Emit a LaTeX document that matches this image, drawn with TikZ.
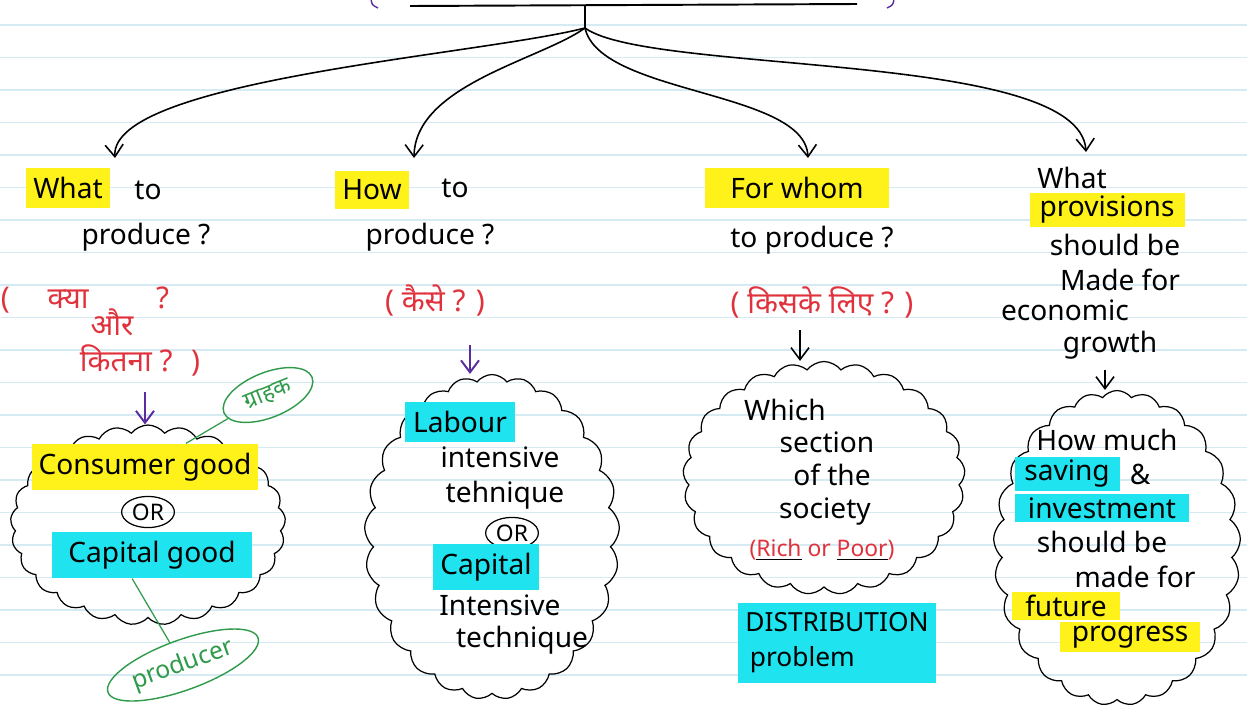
\documentclass[tikz,border=0pt]{standalone}
\usepackage{fontspec}
\setmainfont{Noto Sans}
\newfontfamily\hindi[Script=Devanagari]{Noto Sans}
\usepackage{tikz}
\usetikzlibrary{arrows.meta,positioning,shapes.symbols,shapes.geometric}
\usepackage{xcolor}

\definecolor{hlyellow}{HTML}{FFF21A}
\definecolor{hlcyan}{HTML}{1FE3EE}
\definecolor{penred}{HTML}{E0323C}
\definecolor{pengreen}{HTML}{2E9A4A}
\definecolor{penpurple}{HTML}{5A2D9E}
\definecolor{ruling}{HTML}{D6EAF3}

% red word with a black pen underline
\newcommand{\blkuline}[1]{\leavevmode\rlap{\textcolor{penred}{#1}}%
  {\color{black}\underline{\phantom{#1}}}}

\tikzset{
  hand/.style={inner sep=1pt, font=\fontsize{16}{20}\selectfont},
  hlyel/.style={hand, fill=hlyellow, inner xsep=4pt, inner ysep=5pt},
  hlcyn/.style={hand, fill=hlcyan, inner xsep=4pt, inner ysep=5pt},
  redhindi/.style={inner sep=1pt, text=penred, font=\hindi\fontsize{17}{21}\selectfont},
  bubble/.style={draw, cloud, cloud puffs=25, cloud puff arc=105,
    cloud ignores aspect, line width=0.7pt},
  orring/.style={draw, ellipse, inner sep=1.5pt, line width=0.7pt,
    font=\fontsize{13}{15}\selectfont},
  greentag/.style={draw=pengreen, ellipse, text=pengreen, inner sep=2pt,
    line width=0.8pt},
}

\begin{document}
\begin{tikzpicture}[x=0.02cm,y=-0.02cm,line width=0.9pt,
  >={Straight Barb[length=2.4mm,width=3.6mm]}]
  \useasboundingbox (0,0) rectangle (1247,707);
  \fill[white] (0,0) rectangle (1247,707);

  % ruled paper
  \foreach \ly in {25,57.5,...,700}
    \draw[ruling, line width=0.8pt] (0,\ly) -- (1247,\ly);

  % title bar and stem
  \draw[line width=1.1pt] (410,6) -- (857,4);
  \draw[penpurple, thick] (371,-1) .. controls (372,5) .. (378,8);
  \draw[penpurple, thick] (894,-1) .. controls (893,5) .. (887,8);
  \coordinate (hub) at (585,5);
  \coordinate (fork) at (585,28);
  \draw (hub) -- (fork);

  % arrow ends
  \coordinate (e1) at (115,158);
  \coordinate (e2) at (414,158);
  \coordinate (e3) at (808,158);
  \coordinate (e4) at (1086,152);
  \draw[->] (fork) .. controls (480,55) and (110,80) .. (e1);
  \draw[->] (fork) .. controls (540,60) and (415,85) .. (e2);
  \draw[->] (fork) .. controls (600,95) and (805,90) .. (e3);
  \draw[->] (fork) .. controls (650,75) and (1080,50) .. (e4);

  % What to produce
  \node[hlyel] (what) at (68,188) {What};
  \node[hand] (whatto) at (148,190) {to};
  \node[hand] (whatprod) at (146,237) {produce ?};
  \node[redhindi] (kya) at (85,300) {( \quad क्या \qquad ?};
  \node[redhindi] (aur) at (112,322) {और};
  \node[redhindi] (kitna) at (140,360) {कितना ? \;)};
  \coordinate (p1) at (145,392);
  \node[bubble, minimum width=5.5cm, minimum height=4cm] (c1) at (148,525) {};
  \draw[->, penpurple, line width=1.1pt] (p1) -- (p1 |- c1.north);
  \node[hlyel, minimum width=4.34cm] (cons) at (145,467) {Consumer good};
  \node[orring] (or1) at (148,512) {OR};
  \node[hlcyn, minimum width=4.02cm] (capg) at (152,555) {Capital good};
  \node[greentag, rotate=22, minimum width=1.9cm, minimum height=0.9cm,
    font=\hindi\fontsize{13}{15}\selectfont] (buyer) at (268,395) {ग्राहक};
  \node[greentag, rotate=20, minimum width=2.5cm, minimum height=1cm,
    font=\fontsize{14}{16}\selectfont] (prod) at (183,665) {producer};
  \draw[pengreen, line width=0.7pt] (cons.30) -- (buyer);
  \draw[pengreen, line width=0.7pt] (capg.-130) -- (prod);

  % How to produce
  \node[hlyel] (how) at (372,190) {How};
  \node[hand] (howto) at (455,188) {to};
  \node[hand] (howprod) at (430,237) {produce ?};
  \node[redhindi] (kaise) at (435,300) {( कैसे ? )};
  \coordinate (p2) at (470,345);
  \node[bubble, minimum width=5.1cm, minimum height=6.5cm] (c2) at (492,537) {};
  \draw[->, penpurple, line width=1.1pt] (p2) -- (p2 |- c2.north);
  \node[hlcyn, minimum width=2.2cm] (labour) at (460,422) {Labour};
  \node[hand] (lint) at (500,457) {intensive};
  \node[hand] (ltech) at (505,495) {tehnique};
  \node[orring] (or2) at (512,533) {OR};
  \node[hlcyn, minimum width=2.04cm] (capital) at (486,567) {Capital};
  \node[hand] (cint) at (500,605) {Intensive};
  \node[hand] (ctech) at (522,640) {technique};

  % For whom to produce
  \node[hlyel, minimum width=3.7cm] (whom) at (797,188) {For whom};
  \node[hand] (whomprod) at (812,240) {to produce ?};
  \node[redhindi] (kiske) at (822,302) {( किसके लिए ? )};
  \coordinate (p3) at (800,330);
  \node[bubble, minimum width=5.64cm, minimum height=4.66cm] (c3) at (824,478) {};
  \draw[->] (p3) -- (p3 |- c3.north);
  \node[hand] (which) at (785,410) {Which};
  \node[hand] (section) at (827,442) {section};
  \node[hand] (ofthe) at (832,475) {of the};
  \node[hand] (society) at (825,512) {society};
  \node[inner sep=1pt, text=penred, font=\fontsize{13}{15}\selectfont]
    (richpoor) at (822,550) {(\blkuline{Rich} or \blkuline{Poor})};
  \node[hlcyn, minimum width=3.98cm, minimum height=1.6cm, align=left,
    font=\fontsize{15}{20}\selectfont] (dist) at (837,643)
    {DISTRIBUTION\\\,problem};

  % provisions for growth
  \node[hand] (what4) at (1072,178) {What};
  \node[hlyel, minimum width=3.1cm, inner ysep=2pt] (prov) at (1107,210) {provisions};
  \node[hand] (should4) at (1115,245) {should be};
  \node[hand] (made4) at (1120,280) {Made for};
  \node[hand] (econ) at (1065,310) {economic};
  \node[hand] (growth) at (1110,345) {growth};
  \coordinate (p4) at (1105,370);
  \node[bubble, minimum width=4.94cm, minimum height=6.3cm] (c4) at (1117,548) {};
  \draw[->] (p4) -- (p4 |- c4.north);
  \node[hand] (howmuch) at (1107,440) {How much};
  \node[hlcyn, minimum width=2.1cm, inner ysep=2pt] (saving) at (1067,474) {saving};
  \node[hand, right=4pt of saving] (amp) {\&};
  \node[hlcyn, minimum width=3.5cm, inner ysep=2pt] (invest) at (1102,508) {investment};
  \node[hand] (should5) at (1102,542) {should be};
  \node[hand] (made5) at (1135,577) {made for};
  \node[hlyel, minimum width=2.16cm, inner ysep=2pt] (future) at (1066,606) {future};
  \node[hlyel, minimum width=2.8cm, inner ysep=2pt] (progress) at (1130,637) {progress};
\end{tikzpicture}
\end{document}
